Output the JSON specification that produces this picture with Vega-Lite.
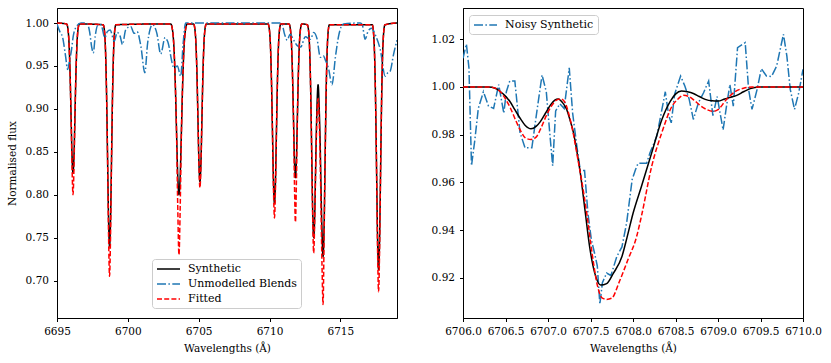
{
  "$schema": "https://vega.github.io/schema/vega-lite/v6.json",
  "padding": {"left": 6, "top": 7, "right": 5, "bottom": 5},
  "spacing": 32,
  "resolve": {"scale": {"color": "independent", "strokeDash": "independent"}},
  "datasets": {
    "synth": [
      {"w": 6695.0, "f": 1.0},
      {"w": 6695.68, "f": 0.999}, {"w": 6695.78, "f": 0.992}, {"w": 6695.85, "f": 0.976}, {"w": 6695.92, "f": 0.943}, {"w": 6695.99, "f": 0.894}, {"w": 6696.06, "f": 0.846}, {"w": 6696.13, "f": 0.825}, {"w": 6696.2, "f": 0.846}, {"w": 6696.27, "f": 0.894}, {"w": 6696.34, "f": 0.943}, {"w": 6696.41, "f": 0.976}, {"w": 6696.48, "f": 0.992}, {"w": 6696.58, "f": 0.999},
      {"w": 6698.26, "f": 0.998}, {"w": 6698.36, "f": 0.989}, {"w": 6698.43, "f": 0.965}, {"w": 6698.5, "f": 0.916}, {"w": 6698.57, "f": 0.842}, {"w": 6698.64, "f": 0.771}, {"w": 6698.71, "f": 0.74}, {"w": 6698.78, "f": 0.771}, {"w": 6698.85, "f": 0.842}, {"w": 6698.92, "f": 0.916}, {"w": 6698.99, "f": 0.965}, {"w": 6699.06, "f": 0.989}, {"w": 6699.16, "f": 0.998},
      {"w": 6703.03, "f": 0.999}, {"w": 6703.16, "f": 0.991}, {"w": 6703.25, "f": 0.973}, {"w": 6703.34, "f": 0.935}, {"w": 6703.43, "f": 0.879}, {"w": 6703.52, "f": 0.824}, {"w": 6703.61, "f": 0.8}, {"w": 6703.7, "f": 0.824}, {"w": 6703.79, "f": 0.879}, {"w": 6703.88, "f": 0.935}, {"w": 6703.97, "f": 0.973}, {"w": 6704.06, "f": 0.991}, {"w": 6704.19, "f": 0.999},
      {"w": 6704.64, "f": 0.999}, {"w": 6704.74, "f": 0.992}, {"w": 6704.81, "f": 0.975}, {"w": 6704.88, "f": 0.94}, {"w": 6704.95, "f": 0.888}, {"w": 6705.02, "f": 0.837}, {"w": 6705.09, "f": 0.815}, {"w": 6705.16, "f": 0.837}, {"w": 6705.23, "f": 0.888}, {"w": 6705.3, "f": 0.94}, {"w": 6705.37, "f": 0.975}, {"w": 6705.44, "f": 0.992}, {"w": 6705.54, "f": 0.999},
      {"w": 6709.9, "f": 0.999}, {"w": 6710.0, "f": 0.991}, {"w": 6710.07, "f": 0.972}, {"w": 6710.14, "f": 0.932}, {"w": 6710.21, "f": 0.873}, {"w": 6710.28, "f": 0.815}, {"w": 6710.35, "f": 0.79}, {"w": 6710.42, "f": 0.815}, {"w": 6710.49, "f": 0.873}, {"w": 6710.56, "f": 0.932}, {"w": 6710.63, "f": 0.972}, {"w": 6710.7, "f": 0.991}, {"w": 6710.8, "f": 0.999},
      {"w": 6711.38, "f": 0.999}, {"w": 6711.48, "f": 0.992}, {"w": 6711.55, "f": 0.976}, {"w": 6711.62, "f": 0.942}, {"w": 6711.69, "f": 0.891}, {"w": 6711.76, "f": 0.841}, {"w": 6711.83, "f": 0.82}, {"w": 6711.9, "f": 0.841}, {"w": 6711.97, "f": 0.891}, {"w": 6712.04, "f": 0.942}, {"w": 6712.11, "f": 0.976}, {"w": 6712.18, "f": 0.992}, {"w": 6712.28, "f": 0.999},
      {"w": 6712.67, "f": 0.998}, {"w": 6712.77, "f": 0.989}, {"w": 6712.84, "f": 0.966}, {"w": 6712.91, "f": 0.919}, {"w": 6712.98, "f": 0.848}, {"w": 6713.05, "f": 0.78}, {"w": 6713.12, "f": 0.75}, {"w": 6713.19, "f": 0.775}, {"w": 6713.26, "f": 0.835}, {"w": 6713.33, "f": 0.89}, {"w": 6713.43, "f": 0.928}, {"w": 6713.52, "f": 0.895}, {"w": 6713.59, "f": 0.85}, {"w": 6713.64, "f": 0.805}, {"w": 6713.71, "f": 0.755}, {"w": 6713.78, "f": 0.728}, {"w": 6713.85, "f": 0.76}, {"w": 6713.92, "f": 0.835}, {"w": 6713.99, "f": 0.912}, {"w": 6714.06, "f": 0.962}, {"w": 6714.13, "f": 0.988}, {"w": 6714.23, "f": 0.998},
      {"w": 6717.25, "f": 0.998}, {"w": 6717.35, "f": 0.987}, {"w": 6717.42, "f": 0.961}, {"w": 6717.49, "f": 0.907}, {"w": 6717.56, "f": 0.826}, {"w": 6717.63, "f": 0.747}, {"w": 6717.7, "f": 0.713}, {"w": 6717.77, "f": 0.747}, {"w": 6717.84, "f": 0.826}, {"w": 6717.91, "f": 0.907}, {"w": 6717.98, "f": 0.961}, {"w": 6718.05, "f": 0.987}, {"w": 6718.15, "f": 0.998},
      {"w": 6719.0, "f": 1.0}
    ],
    "fitted": [
      {"w": 6695.0, "f": 1.0},
      {"w": 6695.68, "f": 0.999}, {"w": 6695.78, "f": 0.992}, {"w": 6695.85, "f": 0.976}, {"w": 6695.92, "f": 0.943}, {"w": 6695.99, "f": 0.894}, {"w": 6696.06, "f": 0.833}, {"w": 6696.13, "f": 0.8}, {"w": 6696.2, "f": 0.833}, {"w": 6696.27, "f": 0.894}, {"w": 6696.34, "f": 0.943}, {"w": 6696.41, "f": 0.976}, {"w": 6696.48, "f": 0.992}, {"w": 6696.58, "f": 0.999},
      {"w": 6698.26, "f": 0.998}, {"w": 6698.36, "f": 0.989}, {"w": 6698.43, "f": 0.965}, {"w": 6698.5, "f": 0.916}, {"w": 6698.57, "f": 0.842}, {"w": 6698.64, "f": 0.753}, {"w": 6698.71, "f": 0.705}, {"w": 6698.78, "f": 0.753}, {"w": 6698.85, "f": 0.842}, {"w": 6698.92, "f": 0.916}, {"w": 6698.99, "f": 0.965}, {"w": 6699.06, "f": 0.989}, {"w": 6699.16, "f": 0.998},
      {"w": 6703.03, "f": 0.999}, {"w": 6703.16, "f": 0.991}, {"w": 6703.25, "f": 0.973}, {"w": 6703.34, "f": 0.935}, {"w": 6703.43, "f": 0.879}, {"w": 6703.52, "f": 0.789}, {"w": 6703.61, "f": 0.73}, {"w": 6703.7, "f": 0.789}, {"w": 6703.79, "f": 0.879}, {"w": 6703.88, "f": 0.935}, {"w": 6703.97, "f": 0.973}, {"w": 6704.06, "f": 0.991}, {"w": 6704.19, "f": 0.999},
      {"w": 6704.64, "f": 0.999}, {"w": 6704.74, "f": 0.992}, {"w": 6704.81, "f": 0.975}, {"w": 6704.88, "f": 0.94}, {"w": 6704.95, "f": 0.888}, {"w": 6705.02, "f": 0.834}, {"w": 6705.09, "f": 0.808}, {"w": 6705.16, "f": 0.834}, {"w": 6705.23, "f": 0.888}, {"w": 6705.3, "f": 0.94}, {"w": 6705.37, "f": 0.975}, {"w": 6705.44, "f": 0.992}, {"w": 6705.54, "f": 0.999},
      {"w": 6709.9, "f": 0.999}, {"w": 6710.0, "f": 0.991}, {"w": 6710.07, "f": 0.972}, {"w": 6710.14, "f": 0.932}, {"w": 6710.21, "f": 0.873}, {"w": 6710.28, "f": 0.807}, {"w": 6710.35, "f": 0.773}, {"w": 6710.42, "f": 0.807}, {"w": 6710.49, "f": 0.873}, {"w": 6710.56, "f": 0.932}, {"w": 6710.63, "f": 0.972}, {"w": 6710.7, "f": 0.991}, {"w": 6710.8, "f": 0.999},
      {"w": 6711.38, "f": 0.999}, {"w": 6711.48, "f": 0.992}, {"w": 6711.55, "f": 0.976}, {"w": 6711.62, "f": 0.942}, {"w": 6711.69, "f": 0.891}, {"w": 6711.76, "f": 0.815}, {"w": 6711.83, "f": 0.768}, {"w": 6711.9, "f": 0.815}, {"w": 6711.97, "f": 0.891}, {"w": 6712.04, "f": 0.942}, {"w": 6712.11, "f": 0.976}, {"w": 6712.18, "f": 0.992}, {"w": 6712.28, "f": 0.999},
      {"w": 6712.67, "f": 0.998}, {"w": 6712.77, "f": 0.989}, {"w": 6712.84, "f": 0.966}, {"w": 6712.91, "f": 0.919}, {"w": 6712.98, "f": 0.848}, {"w": 6713.05, "f": 0.772}, {"w": 6713.12, "f": 0.732}, {"w": 6713.19, "f": 0.77}, {"w": 6713.26, "f": 0.83}, {"w": 6713.33, "f": 0.88}, {"w": 6713.43, "f": 0.912}, {"w": 6713.52, "f": 0.88}, {"w": 6713.59, "f": 0.83}, {"w": 6713.64, "f": 0.78}, {"w": 6713.71, "f": 0.715}, {"w": 6713.78, "f": 0.672}, {"w": 6713.85, "f": 0.745}, {"w": 6713.92, "f": 0.835}, {"w": 6713.99, "f": 0.912}, {"w": 6714.06, "f": 0.962}, {"w": 6714.13, "f": 0.988}, {"w": 6714.23, "f": 0.998},
      {"w": 6717.25, "f": 0.998}, {"w": 6717.35, "f": 0.987}, {"w": 6717.42, "f": 0.961}, {"w": 6717.49, "f": 0.907}, {"w": 6717.56, "f": 0.826}, {"w": 6717.63, "f": 0.734}, {"w": 6717.7, "f": 0.687}, {"w": 6717.77, "f": 0.734}, {"w": 6717.84, "f": 0.826}, {"w": 6717.91, "f": 0.907}, {"w": 6717.98, "f": 0.961}, {"w": 6718.05, "f": 0.987}, {"w": 6718.15, "f": 0.998},
      {"w": 6719.0, "f": 1.0}
    ],
    "blends": [
      {"w": 6695.0, "f": 0.999}, {"w": 6695.2, "f": 0.99}, {"w": 6695.4, "f": 0.983}, {"w": 6695.6, "f": 0.962}, {"w": 6695.75, "f": 0.946}, {"w": 6695.9, "f": 0.958}, {"w": 6696.0, "f": 0.966}, {"w": 6696.15, "f": 0.985}, {"w": 6696.34, "f": 0.995}, {"w": 6696.7, "f": 1.0},
      {"w": 6697.1, "f": 1.0}, {"w": 6697.3, "f": 0.99}, {"w": 6697.45, "f": 0.972}, {"w": 6697.56, "f": 0.965}, {"w": 6697.7, "f": 0.985}, {"w": 6697.86, "f": 0.997}, {"w": 6698.1, "f": 0.998}, {"w": 6698.38, "f": 0.983}, {"w": 6698.55, "f": 0.99}, {"w": 6698.75, "f": 0.992}, {"w": 6699.04, "f": 0.979}, {"w": 6699.25, "f": 0.989}, {"w": 6699.45, "f": 0.985}, {"w": 6699.62, "f": 0.975}, {"w": 6699.85, "f": 0.992},
      {"w": 6700.2, "f": 0.996}, {"w": 6700.45, "f": 0.988}, {"w": 6700.65, "f": 0.99}, {"w": 6700.92, "f": 0.973}, {"w": 6701.2, "f": 0.942}, {"w": 6701.4, "f": 0.977}, {"w": 6701.74, "f": 0.998}, {"w": 6702.05, "f": 0.988}, {"w": 6702.32, "f": 0.964}, {"w": 6702.63, "f": 0.983}, {"w": 6702.8, "f": 0.979}, {"w": 6703.26, "f": 0.948}, {"w": 6703.5, "f": 0.95}, {"w": 6703.73, "f": 0.938}, {"w": 6703.9, "f": 0.975}, {"w": 6704.08, "f": 1.0},
      {"w": 6710.85, "f": 1.0}, {"w": 6711.08, "f": 0.986}, {"w": 6711.25, "f": 0.98}, {"w": 6711.45, "f": 0.987}, {"w": 6711.71, "f": 0.98}, {"w": 6711.94, "f": 0.974}, {"w": 6712.2, "f": 0.972}, {"w": 6712.53, "f": 0.984}, {"w": 6712.89, "f": 0.981}, {"w": 6713.12, "f": 0.989}, {"w": 6713.35, "f": 0.982}, {"w": 6713.59, "f": 0.96}, {"w": 6713.8, "f": 0.962}, {"w": 6713.94, "f": 0.957}, {"w": 6714.18, "f": 0.946}, {"w": 6714.41, "f": 0.928}, {"w": 6714.65, "f": 0.96}, {"w": 6714.88, "f": 0.985}, {"w": 6715.23, "f": 0.999},
      {"w": 6716.4, "f": 1.0}, {"w": 6716.55, "f": 0.998}, {"w": 6716.75, "f": 0.981}, {"w": 6716.95, "f": 0.99}, {"w": 6717.2, "f": 0.994}, {"w": 6717.5, "f": 0.985}, {"w": 6717.82, "f": 0.969}, {"w": 6718.17, "f": 0.938}, {"w": 6718.35, "f": 0.942}, {"w": 6718.52, "f": 0.944}, {"w": 6718.75, "f": 0.963}, {"w": 6719.0, "f": 0.98}
    ],
    "noisy": [
      {"w": 6706.0, "f": 1.012}, {"w": 6706.04, "f": 1.018}, {"w": 6706.07, "f": 1.008}, {"w": 6706.1, "f": 0.967}, {"w": 6706.14, "f": 0.978}, {"w": 6706.18, "f": 0.991}, {"w": 6706.24, "f": 0.998}, {"w": 6706.3, "f": 0.992}, {"w": 6706.36, "f": 0.991}, {"w": 6706.42, "f": 1.001}, {"w": 6706.48, "f": 0.989}, {"w": 6706.51, "f": 0.998}, {"w": 6706.55, "f": 1.0025}, {"w": 6706.61, "f": 1.0025}, {"w": 6706.67, "f": 0.981}, {"w": 6706.73, "f": 0.9745}, {"w": 6706.81, "f": 0.9745}, {"w": 6706.87, "f": 0.99}, {"w": 6706.93, "f": 1.005}, {"w": 6706.98, "f": 0.998},
      {"w": 6707.02, "f": 0.981}, {"w": 6707.055, "f": 0.967}, {"w": 6707.09, "f": 0.99}, {"w": 6707.14, "f": 0.993}, {"w": 6707.19, "f": 0.991}, {"w": 6707.25, "f": 1.008}, {"w": 6707.29, "f": 0.989}, {"w": 6707.34, "f": 0.975}, {"w": 6707.38, "f": 0.965}, {"w": 6707.43, "f": 0.965}, {"w": 6707.47, "f": 0.947}, {"w": 6707.51, "f": 0.936}, {"w": 6707.55, "f": 0.93}, {"w": 6707.58, "f": 0.925}, {"w": 6707.61, "f": 0.909}, {"w": 6707.64, "f": 0.918}, {"w": 6707.69, "f": 0.922}, {"w": 6707.74, "f": 0.921}, {"w": 6707.81, "f": 0.929}, {"w": 6707.87, "f": 0.933}, {"w": 6707.925, "f": 0.943}, {"w": 6707.99, "f": 0.9612},
      {"w": 6708.03, "f": 0.9654}, {"w": 6708.06, "f": 0.968}, {"w": 6708.16, "f": 0.968}, {"w": 6708.2, "f": 0.9724}, {"w": 6708.28, "f": 0.9794}, {"w": 6708.38, "f": 0.998}, {"w": 6708.42, "f": 0.988}, {"w": 6708.45, "f": 0.985}, {"w": 6708.49, "f": 0.997}, {"w": 6708.56, "f": 1.0046}, {"w": 6708.61, "f": 1.0004}, {"w": 6708.66, "f": 0.995}, {"w": 6708.71, "f": 0.9864}, {"w": 6708.77, "f": 0.9934}, {"w": 6708.83, "f": 0.9976}, {"w": 6708.89, "f": 1.0025}, {"w": 6708.94, "f": 0.988}, {"w": 6708.99, "f": 0.996},
      {"w": 6709.06, "f": 0.982}, {"w": 6709.1, "f": 0.992}, {"w": 6709.14, "f": 1.001}, {"w": 6709.18, "f": 0.992}, {"w": 6709.23, "f": 1.0165}, {"w": 6709.32, "f": 1.0186}, {"w": 6709.36, "f": 0.999}, {"w": 6709.4, "f": 0.9906}, {"w": 6709.46, "f": 0.999}, {"w": 6709.51, "f": 1.0077}, {"w": 6709.57, "f": 1.0046}, {"w": 6709.63, "f": 1.0044}, {"w": 6709.69, "f": 1.0088}, {"w": 6709.77, "f": 1.0221}, {"w": 6709.81, "f": 1.013}, {"w": 6709.85, "f": 0.999}, {"w": 6709.9, "f": 0.9906}, {"w": 6709.95, "f": 0.9976}, {"w": 6710.0, "f": 1.0074}
    ],
    "zsynth": [
      {"w": 6706.0, "f": 1.0}, {"w": 6706.3, "f": 1.0}, {"w": 6706.38, "f": 0.9995}, {"w": 6706.44, "f": 0.998}, {"w": 6706.49, "f": 0.9965}, {"w": 6706.55, "f": 0.994}, {"w": 6706.61, "f": 0.9905}, {"w": 6706.67, "f": 0.987}, {"w": 6706.73, "f": 0.984}, {"w": 6706.8, "f": 0.9825}, {"w": 6706.86, "f": 0.9835}, {"w": 6706.91, "f": 0.9855}, {"w": 6706.97, "f": 0.989},
      {"w": 6707.03, "f": 0.9925}, {"w": 6707.08, "f": 0.9945}, {"w": 6707.12, "f": 0.995}, {"w": 6707.17, "f": 0.9935}, {"w": 6707.22, "f": 0.9906}, {"w": 6707.26, "f": 0.986}, {"w": 6707.3, "f": 0.9808}, {"w": 6707.34, "f": 0.973}, {"w": 6707.38, "f": 0.964}, {"w": 6707.44, "f": 0.947}, {"w": 6707.49, "f": 0.933}, {"w": 6707.55, "f": 0.922}, {"w": 6707.62, "f": 0.917}, {"w": 6707.69, "f": 0.9176}, {"w": 6707.77, "f": 0.922}, {"w": 6707.87, "f": 0.929}, {"w": 6707.93, "f": 0.937},
      {"w": 6708.0, "f": 0.947}, {"w": 6708.1, "f": 0.9584}, {"w": 6708.22, "f": 0.9724}, {"w": 6708.34, "f": 0.9864}, {"w": 6708.44, "f": 0.9941}, {"w": 6708.5, "f": 0.997}, {"w": 6708.57, "f": 0.9983}, {"w": 6708.64, "f": 0.998}, {"w": 6708.71, "f": 0.9973}, {"w": 6708.78, "f": 0.996}, {"w": 6708.85, "f": 0.9948}, {"w": 6708.93, "f": 0.9942},
      {"w": 6709.0, "f": 0.9941}, {"w": 6709.08, "f": 0.995}, {"w": 6709.15, "f": 0.9957}, {"w": 6709.22, "f": 0.9965}, {"w": 6709.3, "f": 0.998}, {"w": 6709.38, "f": 0.9993}, {"w": 6709.48, "f": 1.0}, {"w": 6710.0, "f": 1.0}
    ],
    "zfit": [
      {"w": 6706.0, "f": 1.0}, {"w": 6706.3, "f": 1.0}, {"w": 6706.38, "f": 0.9995}, {"w": 6706.44, "f": 0.998}, {"w": 6706.5, "f": 0.995}, {"w": 6706.56, "f": 0.991}, {"w": 6706.62, "f": 0.986}, {"w": 6706.68, "f": 0.9815}, {"w": 6706.74, "f": 0.9785}, {"w": 6706.8, "f": 0.978}, {"w": 6706.86, "f": 0.979}, {"w": 6706.92, "f": 0.983}, {"w": 6706.98, "f": 0.988},
      {"w": 6707.04, "f": 0.992}, {"w": 6707.1, "f": 0.9945}, {"w": 6707.15, "f": 0.995}, {"w": 6707.2, "f": 0.9935}, {"w": 6707.25, "f": 0.988}, {"w": 6707.3, "f": 0.98}, {"w": 6707.35, "f": 0.97}, {"w": 6707.4, "f": 0.96}, {"w": 6707.46, "f": 0.946}, {"w": 6707.52, "f": 0.93}, {"w": 6707.58, "f": 0.917}, {"w": 6707.64, "f": 0.9115}, {"w": 6707.69, "f": 0.911}, {"w": 6707.75, "f": 0.9115}, {"w": 6707.84, "f": 0.9185}, {"w": 6707.94, "f": 0.9276},
      {"w": 6708.04, "f": 0.937}, {"w": 6708.1, "f": 0.946}, {"w": 6708.22, "f": 0.9668}, {"w": 6708.34, "f": 0.981}, {"w": 6708.46, "f": 0.992}, {"w": 6708.53, "f": 0.995}, {"w": 6708.59, "f": 0.9965}, {"w": 6708.66, "f": 0.996}, {"w": 6708.73, "f": 0.9941}, {"w": 6708.8, "f": 0.992}, {"w": 6708.87, "f": 0.9905}, {"w": 6708.94, "f": 0.9898},
      {"w": 6709.0, "f": 0.9905}, {"w": 6709.1, "f": 0.9948}, {"w": 6709.2, "f": 0.998}, {"w": 6709.3, "f": 0.9995}, {"w": 6709.4, "f": 1.0}, {"w": 6710.0, "f": 1.0}
    ]
  },
  "hconcat": [
    {
      "width": 340,
      "height": 310,
      "encoding": {
        "x": {"field": "w", "type": "quantitative", "title": "Wavelengths (Å)", "scale": {"domain": [6695, 6719], "nice": false, "zero": false}, "axis": {"values": [6695, 6700, 6705, 6710, 6715], "format": "d"}},
        "y": {"field": "f", "type": "quantitative", "title": "Normalised flux", "scale": {"domain": [0.6564, 1.0175], "nice": false, "zero": false}, "axis": {"values": [0.7, 0.75, 0.8, 0.85, 0.9, 0.95, 1.0], "format": ".2f", "titlePadding": 8}}
      },
      "layer": [
        {
          "data": {"name": "synth"},
          "mark": {"type": "line", "interpolate": "monotone", "strokeWidth": 1.5, "clip": true},
          "encoding": {
            "color": {"datum": "Synthetic", "type": "nominal", "scale": {"domain": ["Synthetic", "Unmodelled Blends", "Fitted"], "range": ["#000000", "#1f77b4", "#ff0000"]}, "legend": {"title": null, "orient": "none", "legendX": 95, "legendY": 251}},
            "strokeDash": {"datum": "Synthetic", "type": "nominal", "scale": {"domain": ["Synthetic", "Unmodelled Blends", "Fitted"], "range": [[1, 0], [9, 2.4, 1.5, 2.4], [5, 2.2]]}, "legend": {"title": null, "orient": "none", "legendX": 95, "legendY": 251}}
          }
        },
        {
          "data": {"name": "blends"},
          "mark": {"type": "line", "interpolate": "monotone", "strokeWidth": 1.5, "clip": true},
          "encoding": {
            "color": {"datum": "Unmodelled Blends", "type": "nominal"},
            "strokeDash": {"datum": "Unmodelled Blends", "type": "nominal"}
          }
        },
        {
          "data": {"name": "fitted"},
          "mark": {"type": "line", "interpolate": "monotone", "strokeWidth": 1.5, "clip": true},
          "encoding": {
            "color": {"datum": "Fitted", "type": "nominal"},
            "strokeDash": {"datum": "Fitted", "type": "nominal"}
          }
        }
      ]
    },
    {
      "width": 340,
      "height": 310,
      "encoding": {
        "x": {"field": "w", "type": "quantitative", "title": "Wavelengths (Å)", "scale": {"domain": [6706, 6710], "nice": false, "zero": false}, "axis": {"values": [6706, 6706.5, 6707, 6707.5, 6708, 6708.5, 6709, 6709.5, 6710], "format": ".1f"}},
        "y": {"field": "f", "type": "quantitative", "title": null, "scale": {"domain": [0.9032, 1.0331], "nice": false, "zero": false}, "axis": {"values": [0.92, 0.94, 0.96, 0.98, 1.0, 1.02], "format": ".2f"}}
      },
      "layer": [
        {
          "data": {"name": "noisy"},
          "mark": {"type": "line", "strokeWidth": 1.5, "clip": true},
          "encoding": {
            "color": {"datum": "Noisy Synthetic", "type": "nominal", "scale": {"domain": ["Noisy Synthetic"], "range": ["#1f77b4"]}, "legend": {"title": null, "orient": "none", "legendX": 6, "legendY": 7}},
            "strokeDash": {"datum": "Noisy Synthetic", "type": "nominal", "scale": {"domain": ["Noisy Synthetic"], "range": [[9, 2.4, 1.5, 2.4]]}, "legend": {"title": null, "orient": "none", "legendX": 6, "legendY": 7}}
          }
        },
        {
          "data": {"name": "zsynth"},
          "mark": {"type": "line", "interpolate": "monotone", "strokeWidth": 1.5, "color": "#000000", "clip": true},
          "encoding": {}
        },
        {
          "data": {"name": "zfit"},
          "mark": {"type": "line", "interpolate": "monotone", "strokeWidth": 1.5, "color": "#ff0000", "strokeDash": [5, 2.2], "clip": true},
          "encoding": {}
        }
      ]
    }
  ],
  "config": {
    "font": "DejaVu Serif, Liberation Serif, serif",
    "view": {"stroke": "#000000", "strokeWidth": 1},
    "axis": {"labelFont": "DejaVu Serif, Liberation Serif, serif", "labelFontSize": 10.5, "labelColor": "#000000", "titleFont": "DejaVu Serif, Liberation Serif, serif", "titleFontSize": 10.5, "titleFontWeight": "normal", "titleColor": "#000000", "grid": false, "domainColor": "#000000", "tickColor": "#000000", "tickSize": 3.5, "labelPadding": 5, "labelFlush": false, "labelOverlap": false, "titlePadding": 6},
    "legend": {"labelFont": "DejaVu Serif, Liberation Serif, serif", "labelFontSize": 11, "labelColor": "#000000", "symbolType": "M-1,0H3.6", "symbolStrokeWidth": 1.5, "symbolSize": 100, "labelOffset": 20, "fillColor": "rgba(255,255,255,0.8)", "strokeColor": "#cccccc", "cornerRadius": 3, "padding": 4, "rowPadding": 4}
  }
}
